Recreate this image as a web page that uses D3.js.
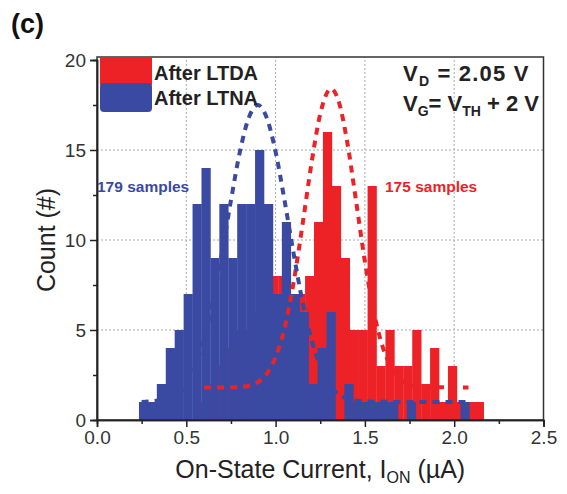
<!DOCTYPE html>
<html>
<head>
<meta charset="utf-8">
<script src="https://cdn.jsdelivr.net/npm/d3@7"></script>
<style>
  body { margin: 0; background: #fff; }
  svg { font-family: "Liberation Sans", Arial, sans-serif; }
</style>
</head>
<body>
<div id="chart"></div>
<script>
// histogram bins (left edge of first bin, bin width in uA)
var binWidth = 0.05;
var blueStart = 0.235;
var blueCounts = [1, 1, 2, 4, 5, 7, 12, 14, 9, 12, 9, 12, 12, 15, 12, 7, 11, 7,
  6, 2, 4, 6, 0, 2, 1, 1, 1, 1, 1, 0, 1, 0, 0, 0, 0, 0, 1];
var redStart = 0.565;
var redCounts = [1, 2, 3, 4, 5, 5, 6, 8, 8, 8, 6, 7,
  8, 11, 16, 13, 9, 5, 5, 13, 3, 5, 3, 3, 5, 2, 4, 1, 3, 1, 1, 1];

// gaussian fits [current, count]
var blueFit = [[0.25, 1.0], [0.4, 1.2], [0.5, 2.0], [0.6, 4.5], [0.7, 9.3], [0.75, 12.2],
  [0.8, 14.9], [0.85, 16.8], [0.9, 17.5], [0.95, 16.8], [1.0, 14.9], [1.05, 12.2],
  [1.1, 9.3], [1.15, 6.6], [1.2, 4.5], [1.25, 3.0], [1.3, 2.0], [1.4, 1.2],
  [1.5, 1.03], [1.8, 1.0], [2.08, 1.0]];
var redFit = [[0.6, 1.8], [0.8, 1.83], [0.9, 2.1], [0.95, 2.56], [1.0, 3.5], [1.05, 5.1],
  [1.1, 7.6], [1.15, 10.8], [1.2, 14.2], [1.25, 17.0], [1.31, 18.4], [1.35, 17.8],
  [1.4, 15.5], [1.45, 12.2], [1.5, 8.8], [1.55, 6.0], [1.6, 4.05], [1.65, 2.9],
  [1.7, 2.24], [1.8, 1.85], [2.08, 1.8]];

var xTicks = [0, 0.5, 1.0, 1.5, 2.0, 2.5];
var yTicks = [0, 5, 10, 15, 20];

var RED = "#ec2227", BLUE = "#3a4aa2";

var margin = {left: 97, top: 60, right: 23, bottom: 74};
var W = 567, H = 494;
var width = W - margin.left - margin.right;
var height = H - margin.top - margin.bottom;

var svg = d3.select("#chart").append("svg")
  .attr("width", W).attr("height", H);

var g = svg.append("g")
  .attr("transform", `translate(${margin.left},${margin.top})`);

var x = d3.scaleLinear().domain([0, 2.5]).range([0, 446.5]);
var y = d3.scaleLinear().domain([0, 20]).range([height, 0]);

// grid
g.append("g").selectAll("line.gx")
  .data(xTicks.slice(1, -1))
  .enter().append("line")
  .attr("x1", d => x(d)).attr("x2", d => x(d))
  .attr("y1", 0).attr("y2", height)
  .attr("stroke", "#aaa").attr("stroke-width", 1).attr("stroke-dasharray", "2,2");
g.append("g").selectAll("line.gy")
  .data(yTicks.slice(1, -1))
  .enter().append("line")
  .attr("x1", 0).attr("x2", x(2.5))
  .attr("y1", d => y(d)).attr("y2", d => y(d))
  .attr("stroke", "#aaa").attr("stroke-width", 1).attr("stroke-dasharray", "2,2");

function bins(start, counts) {
  return counts.map((c, i) => ({x0: start + i * binWidth, x1: start + (i + 1) * binWidth, n: c}));
}

g.append("g").selectAll("rect")
  .data(bins(redStart, redCounts).filter(d => d.n > 0))
  .enter().append("rect")
  .attr("x", d => x(d.x0)).attr("width", d => x(d.x1) - x(d.x0) + 0.3)
  .attr("y", d => y(d.n)).attr("height", d => y(0) - y(d.n))
  .attr("fill", RED);

g.append("g").selectAll("rect")
  .data(bins(blueStart, blueCounts).filter(d => d.n > 0))
  .enter().append("rect")
  .attr("x", d => x(d.x0)).attr("width", d => x(d.x1) - x(d.x0) + 0.3)
  .attr("y", d => y(d.n)).attr("height", d => y(0) - y(d.n))
  .attr("fill", BLUE);

var line = d3.line().x(d => x(d[0])).y(d => y(d[1])).curve(d3.curveMonotoneX);

g.append("path").datum(redFit)
  .attr("d", line).attr("fill", "none")
  .attr("stroke", RED).attr("stroke-width", 4).attr("stroke-dasharray", "7,6");
g.append("path").datum(blueFit)
  .attr("d", line).attr("fill", "none")
  .attr("stroke", BLUE).attr("stroke-width", 4).attr("stroke-dasharray", "7,6");

// frame
g.append("rect")
  .attr("x", 0).attr("y", -3).attr("width", x(2.5)).attr("height", height + 3)
  .attr("fill", "none").attr("stroke", "#333").attr("stroke-width", 1.5);

// axes
var xAxis = d3.axisBottom(x).tickValues(xTicks).tickFormat(d3.format(".1f")).tickSize(7).tickPadding(4);
var xMinor = d3.axisBottom(x).tickValues(d3.range(0.25, 2.5, 0.5)).tickFormat("").tickSize(4);
var yAxis = d3.axisLeft(y).tickValues(yTicks).tickSize(7).tickPadding(4);
var yMinor = d3.axisLeft(y).tickValues([2.5, 7.5, 12.5, 17.5]).tickFormat("").tickSize(4);

function style(sel) {
  sel.select(".domain").attr("stroke", "#222").attr("stroke-width", 1.5);
  sel.selectAll(".tick line").attr("stroke", "#222").attr("stroke-width", 1.5);
  sel.selectAll(".tick text").attr("font-size", 19).attr("fill", "#333")
    .attr("font-family", "Liberation Sans, Arial, sans-serif");
}

g.append("g").attr("transform", `translate(0,${height})`).call(xAxis).call(style);
g.append("g").attr("transform", `translate(0,${height})`).call(xMinor).call(style);
g.append("g").call(yAxis).call(style);
g.append("g").call(yMinor).call(style);

// legend
g.append("rect").attr("x", 3).attr("y", -3).attr("width", 52).attr("height", 28)
  .attr("fill", RED);
g.append("rect").attr("x", 3).attr("y", 23).attr("width", 52).attr("height", 29)
  .attr("rx", 4).attr("fill", BLUE);
g.append("text").attr("x", 57).attr("y", 20).text("After LTDA")
  .attr("font-size", 20).attr("font-weight", "bold").attr("fill", "#222");
g.append("text").attr("x", 57).attr("y", 45).text("After LTNA")
  .attr("font-size", 20).attr("font-weight", "bold").attr("fill", "#222");

// annotations
g.append("text").attr("x", 0).attr("y", 132).text("179 samples")
  .attr("font-size", 15.5).attr("font-weight", "bold").attr("fill", BLUE);
g.append("text").attr("x", 288).attr("y", 132).text("175 samples")
  .attr("font-size", 15.5).attr("font-weight", "bold").attr("fill", RED);

var v1 = g.append("text").attr("x", 306).attr("y", 21)
  .attr("font-size", 22).attr("font-weight", "bold").attr("fill", "#222")
  .attr("letter-spacing", 1.2);
v1.append("tspan").text("V");
v1.append("tspan").text("D").attr("font-size", 14).attr("dy", 5);
v1.append("tspan").text(" = 2.05 V").attr("dy", -5);

var v2 = g.append("text").attr("x", 306).attr("y", 51)
  .attr("font-size", 22).attr("font-weight", "bold").attr("fill", "#222");
v2.append("tspan").text("V");
v2.append("tspan").text("G").attr("font-size", 14).attr("dy", 5);
v2.append("tspan").text("= V").attr("dy", -5);
v2.append("tspan").text("TH").attr("font-size", 14).attr("dy", 5);
v2.append("tspan").text(" + 2 V").attr("dy", -5);

// titles
svg.append("text").attr("x", 11).attr("y", 33).text("(c)")
  .attr("font-size", 27).attr("font-weight", "bold").attr("fill", "#111");

svg.append("text")
  .attr("transform", `translate(55,${margin.top + height / 2}) rotate(-90)`)
  .attr("text-anchor", "middle").attr("font-size", 25).attr("fill", "#222")
  .text("Count (#)");

var xl = svg.append("text").attr("x", margin.left + x(1.25)).attr("y", 478)
  .attr("text-anchor", "middle").attr("font-size", 25).attr("fill", "#222");
xl.append("tspan").text("On-State Current, I");
xl.append("tspan").text("ON").attr("font-size", 16).attr("dy", 5);
xl.append("tspan").text(" (\u00b5A)").attr("dy", -5);
</script>
</body>
</html>
